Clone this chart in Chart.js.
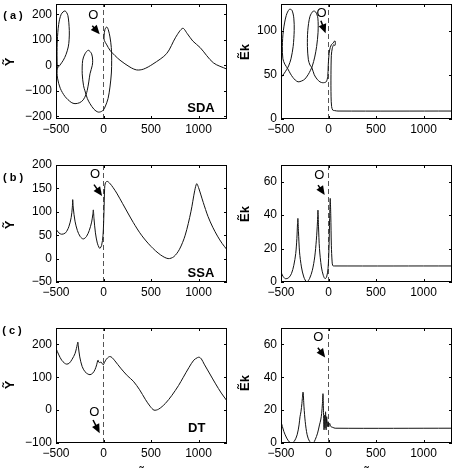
<!DOCTYPE html>
<html>
<head>
<meta charset="utf-8">
<script src="https://cdn.jsdelivr.net/npm/chart.js@4.4.1/dist/chart.umd.min.js"></script>
<style>
  html, body { margin: 0; padding: 0; background: #fff; }
  #wrap { position: relative; width: 455px; height: 468px; overflow: hidden; }
  canvas { position: absolute; left: 0; top: 0; }
</style>
</head>
<body>
<div id="wrap">
  <canvas id="aY" width="455" height="468"></canvas>
  <canvas id="aE" width="455" height="468"></canvas>
  <canvas id="bY" width="455" height="468"></canvas>
  <canvas id="bE" width="455" height="468"></canvas>
  <canvas id="cY" width="455" height="468"></canvas>
  <canvas id="cE" width="455" height="468"></canvas>
</div>
<script>
// tick labels
const xTicks = [-500, 0, 500, 1000];
const aYTicks = [-200, -100, 0, 100, 200];
const aETicks = [0, 50, 100];
const bYTicks = [-50, 0, 50, 100, 150, 200];
const bETicks = [0, 20, 40, 60];
const cYTicks = [-100, 0, 100, 200];
const cETicks = [0, 20, 40, 60];

// (a) SDA - Y vs X
const aYX = [-486,-489,-486,-472,-445,-405,-375,-360,-362,-371,-395,-423,-460,-486,-484,-455,-405,-340,-300,-250,-213,-185,-171,-155,-142,-118,-114,-125,-160,-195,-219,-224,-210,-195,-170,-142,-100,-55,-10,16,48,68,83,86,82,68,50,34,15,6,8,35,68,121,174,279,349,420,520,665,760,834,880,940,1016,1156,1300];
const aYY = [-13,40,98,160,200,213,195,137,100,72,42,20,0,-13,-50,-90,-122,-145,-150,-146,-135,-115,-98,-65,-33,0,20,45,59,45,20,-33,-80,-100,-130,-150,-172,-183,-178,-163,-130,-85,-30,20,70,111,140,150,140,115,98,80,59,38,20,-7,-18,-15,5,46,110,145,125,95,70,10,-15];
// (a) SDA - Ek vs X
const aEX = [-500,-470,-440,-420,-395,-372,-361,-365,-385,-412,-445,-475,-486,-480,-460,-430,-400,-375,-350,-320,-282,-250,-215,-190,-170,-145,-125,-110,-112,-135,-160,-195,-218,-222,-212,-195,-175,-150,-120,-90,-60,-25,-8,-3,3,12,30,51,62,70,72,66,55,40,30,26,27,33,45,65,100,1300];
const aEY = [47,51,56,60,68,82,100,114,123,124,117,100,82,68,62,57,51,47,44,42,43,45,50,55,60,70,82,98,114,121,122,116,100,82,67,61,58,50,45,42,41,42,48,60,70,78,84,86,88,88,85,83,84,80,72,50,25,14,10,9.5,9,9];

// (b) SSA
const bYX = [-500,-470,-440,-400,-365,-340,-328,-324,-318,-300,-275,-245,-213,-180,-150,-125,-112,-107,-100,-85,-65,-45,-37,-20,-5,5,12,20,40,70,100,139,200,314,400,500,600,680,740,800,860,920,960,981,1000,1050,1100,1150,1200,1250,1300];
const bYY = [63,55,52,55,68,88,110,126,108,80,60,47,42,47,60,78,95,104,85,55,33,23,22,28,50,100,150,162,165,160,152,140,118,77,50,26,8,0,4,20,50,100,145,160,152,120,90,67,48,32,19];
const bEX = [-500,-480,-455,-420,-390,-365,-345,-333,-326,-322,-316,-305,-285,-260,-229,-200,-170,-145,-128,-116,-111,-105,-95,-75,-55,-37,-20,-5,5,12,18,24,30,38,45,60,1300];
const bEY = [6,3.5,2,2.5,5,10,17,26,35,38,30,18,9,3,0,2,7,15,25,36,43,33,20,9,4,2,3,8,20,38,50,40,22,12,9.8,9.6,9.6];

// (c) DT
const cYX = [-500,-470,-440,-410,-387,-360,-330,-300,-285,-276,-270,-264,-250,-225,-195,-165,-142,-115,-90,-72,-62,-57,-50,-40,-25,-10,-2,10,30,55,70,90,120,180,250,314,380,440,490,532,580,650,720,790,840,900,950,990,1008,1030,1060,1120,1180,1240,1300];
const cYY = [188,168,152,143,140,143,155,172,188,200,207,192,162,133,117,110,108,112,123,138,150,152,146,145,146,140,138,145,155,162,163,160,150,128,105,88,62,33,12,0,3,20,45,75,100,130,152,160,161,156,140,110,80,52,28];
const cEX = [-500,-470,-440,-410,-387,-360,-330,-310,-300,-290,-280,-268,-258,-245,-225,-200,-175,-160,-140,-115,-95,-82,-72,-64,-58,-53,-47,-42,-37,-31,-25,-19,-12,-5,3,12,25,45,70,1300];
const cEY = [13,7,3,0.5,0,1,5,11,16,19,24,31,22,13,5,1,0,0,2,6,11,14,18,24,30,20,8,17,9,19,8,16,10,13,10,12,10,9.5,9,9];

const FONT = "'Liberation Sans', Arial, Helvetica, sans-serif";
const fmt = v => (v < 0 ? '\u2212' + Math.abs(v) : String(v));

// frame, inward ticks, labels and the "O" arrow (MATLAB look)
const decor = {
  id: 'decor',
  afterDraw(chart, args, o) {
    const { ctx, chartArea: a, scales: { x, y } } = chart;
    ctx.save();
    ctx.strokeStyle = '#000';
    ctx.lineWidth = 1;
    ctx.strokeRect(a.left + 0.5, a.top + 0.5, a.right - a.left - 1, a.bottom - a.top - 1);
    ctx.beginPath();
    x.ticks.forEach(t => {
      const p = Math.round(x.getPixelForValue(t.value)) + 0.5;
      ctx.moveTo(p, a.top); ctx.lineTo(p, a.top + 3);
      ctx.moveTo(p, a.bottom); ctx.lineTo(p, a.bottom - 3);
    });
    y.ticks.forEach(t => {
      const p = Math.round(y.getPixelForValue(t.value)) + 0.5;
      ctx.moveTo(a.left, p); ctx.lineTo(a.left + 3, p);
      ctx.moveTo(a.right, p); ctx.lineTo(a.right - 3, p);
    });
    ctx.stroke();

    ctx.fillStyle = '#000';
    ctx.textAlign = 'center';
    ctx.textBaseline = 'middle';

    // O marker + arrow
    const ox = x.getPixelForValue(o.o[0]), oy = y.getPixelForValue(o.o[1]);
    ctx.font = '13px ' + FONT;
    ctx.fillText('O', ox, oy);
    const x1 = x.getPixelForValue(o.arrow[0]), y1 = y.getPixelForValue(o.arrow[1]);
    const x2 = x.getPixelForValue(o.arrow[2]), y2 = y.getPixelForValue(o.arrow[3]);
    const ang = Math.atan2(y2 - y1, x2 - x1);
    const c = Math.cos(ang), s = Math.sin(ang);
    ctx.lineWidth = 1.5;
    ctx.beginPath();
    ctx.moveTo(x1, y1);
    ctx.lineTo(x2 - 5 * c, y2 - 5 * s);
    ctx.stroke();
    ctx.beginPath();
    ctx.moveTo(x2, y2);
    ctx.lineTo(x2 - 9 * c + 4 * s, y2 - 9 * s - 4 * c);
    ctx.lineTo(x2 - 9 * c - 4 * s, y2 - 9 * s + 4 * c);
    ctx.closePath();
    ctx.fill();

    if (o.tag) {
      ctx.font = 'bold 13px ' + FONT;
      ctx.fillText(o.tag[0], x.getPixelForValue(o.tag[1]), y.getPixelForValue(o.tag[2]));
    }
    if (o.panel) {
      ctx.font = 'bold 11px ' + FONT;
      ctx.fillText(o.panel[0], o.panel[1], o.panel[2]);
    }
    // y title
    ctx.font = 'bold 13px ' + FONT;
    ctx.save();
    ctx.translate(o.yTitle[1], o.yTitle[2]);
    ctx.rotate(-Math.PI / 2);
    ctx.fillText(o.yTitle[0], 0, 0);
    ctx.restore();
    // x title (only the top peeks into the picture)
    if (o.xTitle) {
      ctx.textBaseline = 'alphabetic';
      ctx.fillText(o.xTitle, (a.left + a.right) / 2, 478);
    }
    ctx.restore();
  }
};

function build(id, xs, ys, yMin, yMax, yTicks, box, deco) {
  const [l, t, r, b] = box;
  const curve = xs.map((v, i) => ({ x: v, y: ys[i] }));
  return new Chart(document.getElementById(id), {
    type: 'scatter',
    data: {
      datasets: [
        { data: curve, showLine: true, borderColor: '#111', borderWidth: 1, pointRadius: 0, tension: 0.3 },
        { data: [{ x: 0, y: yMin }, { x: 0, y: yMax }], showLine: true, borderColor: '#555', borderWidth: 1, borderDash: [5, 3], pointRadius: 0 }
      ]
    },
    options: {
      responsive: false,
      devicePixelRatio: 1,
      animation: false,
      events: [],
      layout: { padding: { left: l - 40, top: t, right: 455 - r, bottom: 468 - b - 20 } },
      plugins: { legend: { display: false }, tooltip: { enabled: false }, decor: deco },
      scales: {
        x: {
          type: 'linear', min: -500, max: 1300,
          afterBuildTicks: s => { s.ticks = xTicks.map(v => ({ value: v })); },
          afterFit: s => { s.height = 20; s.paddingLeft = 0; s.paddingRight = 0; },
          grid: { display: false, drawTicks: false },
          border: { display: false },
          ticks: { font: { family: FONT, size: 12 }, color: '#000', padding: 3, maxRotation: 0, autoSkip: false, callback: v => fmt(v) }
        },
        y: {
          type: 'linear', min: yMin, max: yMax,
          afterBuildTicks: s => { s.ticks = yTicks.map(v => ({ value: v })); },
          afterFit: s => { s.width = 40; s.paddingTop = 0; s.paddingBottom = 0; },
          grid: { display: false, drawTicks: false },
          border: { display: false },
          ticks: { font: { family: FONT, size: 12 }, color: '#000', padding: 4, autoSkip: false, callback: v => fmt(v) }
        }
      }
    },
    plugins: [decor]
  });
}

build('aY', aYX, aYY, -210, 240, aYTicks, [56, 4, 227, 119], {
  o: [-107, 196], arrow: [-118, 155, -40, 122], tag: ['SDA', 1026, -167],
  panel: ['( a )', 13, 16], yTitle: ['\u1EF8', 10, 62]
});
build('aE', aEX, aEY, 0, 130, aETicks, [281, 4, 452, 119], {
  o: [-72, 119], arrow: [-80, 111, -30, 97], yTitle: ['\u1EBCk', 245, 52]
});
build('bY', bYX, bYY, -50, 200, bYTicks, [56, 165, 227, 282], {
  o: [-89, 179], arrow: [-100, 158, -15, 134], tag: ['SSA', 1026, -31],
  panel: ['( b )', 13, 178], yTitle: ['\u1EF8', 10, 225]
});
build('bE', bEX, bEY, 0, 70, bETicks, [281, 165, 452, 282], {
  o: [-97, 64], arrow: [-110, 58, -40, 52], yTitle: ['\u1EBCk', 245, 214]
});
build('cY', cYX, cYY, -100, 250, cYTicks, [56, 328, 227, 443], {
  o: [-97, -7], arrow: [-110, -30, -40, -70], tag: ['DT', 981, -57],
  panel: ['( c )', 12, 331], yTitle: ['\u1EF8', 10, 385], xTitle: 'X\u0303'
});
build('cE', cEX, cEY, 0, 70, cETicks, [281, 328, 452, 443], {
  o: [-107, 64], arrow: [-112, 58, -35, 52], yTitle: ['\u1EBCk', 245, 383], xTitle: 'X\u0303'
});
</script>
</body>
</html>
